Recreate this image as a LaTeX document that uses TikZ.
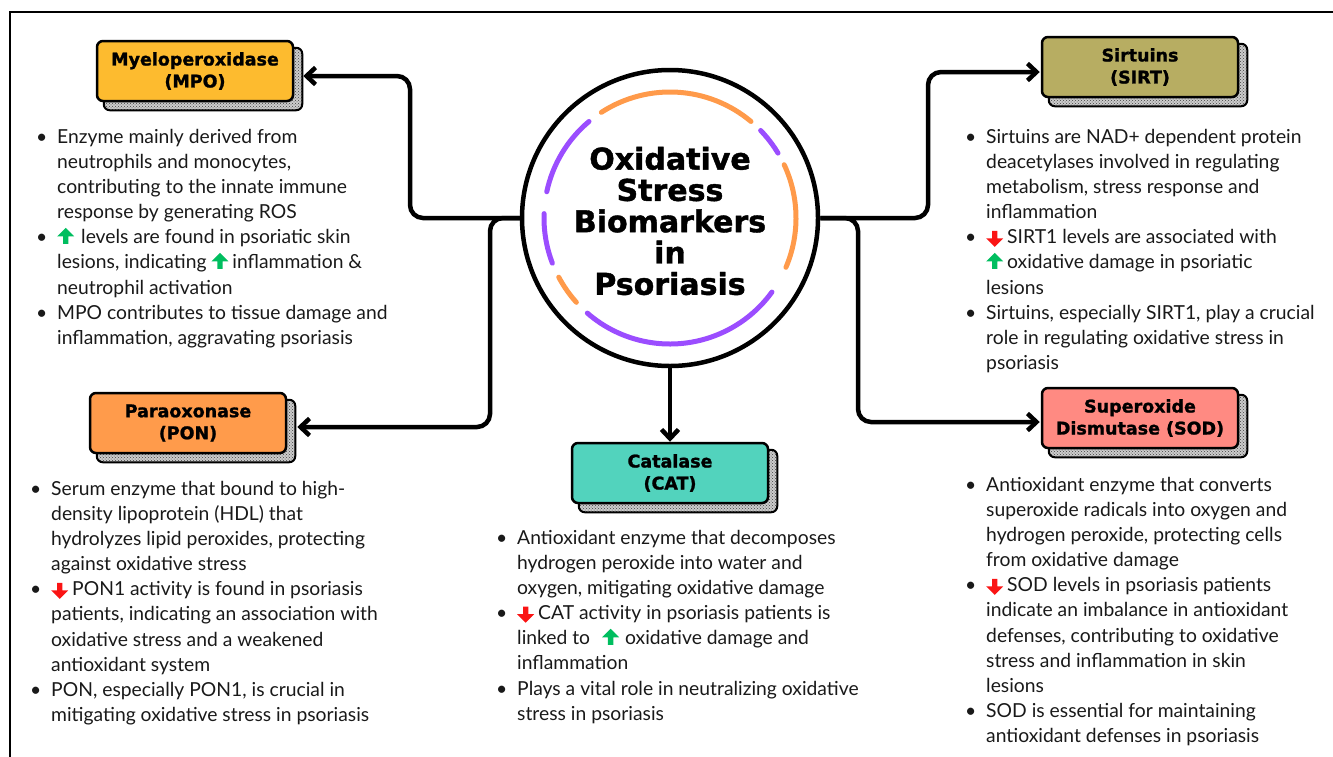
\documentclass[tikz,border=0pt]{standalone}
\usepackage{fontspec}
\setmainfont{Lato}
\newfontfamily\headfont{DejaVu Sans}[FakeBold=1.3]
\usetikzlibrary{arrows.meta,patterns,backgrounds}

\definecolor{mpocol}{RGB}{253,187,47}
\definecolor{sirtcol}{RGB}{183,173,98}
\definecolor{poncol}{RGB}{255,155,75}
\definecolor{catcol}{RGB}{82,211,189}
\definecolor{sodcol}{RGB}{255,138,130}
\definecolor{ringor}{RGB}{255,154,74}
\definecolor{ringpu}{RGB}{155,77,255}
\definecolor{upgreen}{RGB}{0,190,95}
\definecolor{dnred}{RGB}{250,20,20}

\newcommand{\bl}{\makebox[21pt][l]{\textbullet}}
\newcommand{\ind}{\hspace*{21pt}}
\newcommand{\uparr}{\tikz[baseline=0pt,x=1pt,y=1pt]\fill[upgreen] (-2.7,0) -- (-2.7,7.5) -- (-8.5,7.5) -- (0,16) -- (8.5,7.5) -- (2.7,7.5) -- (2.7,0) -- cycle;}
\newcommand{\dnarr}{\tikz[baseline=3pt,x=1pt,y=1pt]\fill[dnred] (-2.7,16) -- (-2.7,8.5) -- (-8.5,8.5) -- (0,0) -- (8.5,8.5) -- (2.7,8.5) -- (2.7,16) -- cycle;}

\begin{document}
\begin{tikzpicture}[x=1pt,y=-1pt,
    biobox/.style={draw,line width=2.5pt,rounded corners=6pt,minimum width=196pt,minimum height=60pt,
      align=center,inner sep=0pt,font=\headfont\bfseries\fontsize{17.5}{22}\selectfont},
    shade3d/.style={draw,line width=2pt,rounded corners=6pt,preaction={fill=gray!40},
      pattern=crosshatch dots,pattern color=black!75},
    link/.style={line width=4.5pt,rounded corners=13pt,-{Straight Barb[length=9pt,width=17pt]}},
    ring/.style={line width=5pt,line cap=round},
    txt/.style={anchor=north west,inner sep=0pt,align=left,text=black!90,font=\fontsize{19.3}{25.1}\selectfont}]
  \clip (0,0) rectangle (1333,756);
  \draw[line width=1.8pt] (10,12) rectangle (1350,775);

  \node[circle,draw,line width=4.5pt,minimum size=296pt] (core) at (670,218) {};
  \node[align=center,font=\headfont\bfseries\fontsize{30}{31.3}\selectfont] (title) at (670,221)
    {Oxidative\\Stress\\Biomarkers\\in\\Psoriasis};
  \foreach \a/\b/\c in {-50/-123/ringor,-31/-44/ringpu,23/-25/ringor,131/36/ringpu,
      152/138/ringor,-178/-201/ringpu,-130/-168/ringpu}
    \draw[ring,\c] (core.center) ++(\a:126) arc (\a:\b:126);

  \node[biobox,fill=mpocol] (mpo) at (195,71) {Myeloperoxidase\\(MPO)};
  \node[biobox,fill=sirtcol] (sirt) at (1140,67) {Sirtuins\\(SIRT)};
  \node[biobox,fill=poncol] (pon) at (188,423) {Paraoxonase\\(PON)};
  \node[biobox,fill=catcol] (cat) at (670,473) {Catalase\\(CAT)};
  \node[biobox,fill=sodcol] (sod) at (1140,418) {Superoxide\\Dismutase (SOD)};

  \begin{scope}[on background layer]
    \foreach \n in {mpo,sirt,pon,cat,sod}
      \draw[shade3d] ([shift={(8,8)}]\n.north west) rectangle ([shift={(8,8)}]\n.south east);
  \end{scope}

  \draw[link] (core.west) -- (410,218) |- ([shift={(9,5)}]mpo.east);
  \draw[link] (core.west) -- (490,218) |- ([shift={(10,4)}]pon.east);
  \draw[link] (core.east) -- (928,218) |- ([shift={(-1,5)}]sirt.west);
  \draw[link] (core.east) -- (858,218) |- ([shift={(-1,4)}]sod.west);
  \draw[link] (core.south) -- (cat.north);

  \node[txt] (mpotxt) at (36,129) {\bl Enzyme mainly derived from\\
    \ind neutrophils and monocytes,\\
    \ind contributing to the innate immune\\
    \ind response by generating ROS\\
    \bl\uparr\hspace{7pt}levels are found in psoriatic skin\\
    \ind lesions, indicating \uparr\hspace{4pt}inflammation \&\\
    \ind neutrophil activation\\
    \bl MPO contributes to tissue damage and\\
    \ind inflammation, aggravating psoriasis};
  \node[txt] (sirttxt) at (965,129) {\bl Sirtuins are NAD+ dependent protein\\
    \ind deacetylases involved in regulating\\
    \ind metabolism, stress response and\\
    \ind inflammation\\
    \bl\dnarr\hspace{4pt}SIRT1 levels are associated with\\
    \ind\uparr\hspace{4pt}oxidative damage in psoriatic\\
    \ind lesions\\
    \bl Sirtuins, especially SIRT1, play a crucial\\
    \ind role in regulating oxidative stress in\\
    \ind psoriasis};
  \node[txt] (pontxt) at (30,481) {\bl Serum enzyme that bound to high-\\
    \ind density lipoprotein (HDL) that\\
    \ind hydrolyzes lipid peroxides, protecting\\
    \ind against oxidative stress\\
    \bl\dnarr\hspace{4pt}PON1 activity is found in psoriasis\\
    \ind patients, indicating an association with\\
    \ind oxidative stress and a weakened\\
    \ind antioxidant system\\
    \bl PON, especially PON1, is crucial in\\
    \ind mitigating oxidative stress in psoriasis};
  \node[txt] (cattxt) at (496,530) {\bl Antioxidant enzyme that decomposes\\
    \ind hydrogen peroxide into water and\\
    \ind oxygen, mitigating oxidative damage\\
    \bl\dnarr\hspace{4pt}CAT activity in psoriasis patients is\\
    \ind linked to\hspace{12pt}\uparr\hspace{6pt}oxidative damage and\\
    \ind inflammation\\
    \bl Plays a vital role in neutralizing oxidative\\
    \ind stress in psoriasis};
  \node[txt] (sodtxt) at (965,477) {\bl Antioxidant enzyme that converts\\
    \ind superoxide radicals into oxygen and\\
    \ind hydrogen peroxide, protecting cells\\
    \ind from oxidative damage\\
    \bl\dnarr\hspace{4pt}SOD levels in psoriasis patients\\
    \ind indicate an imbalance in antioxidant\\
    \ind defenses, contributing to oxidative\\
    \ind stress and inflammation in skin\\
    \ind lesions\\
    \bl SOD is essential for maintaining\\
    \ind antioxidant defenses in psoriasis};
\end{tikzpicture}
\end{document}
